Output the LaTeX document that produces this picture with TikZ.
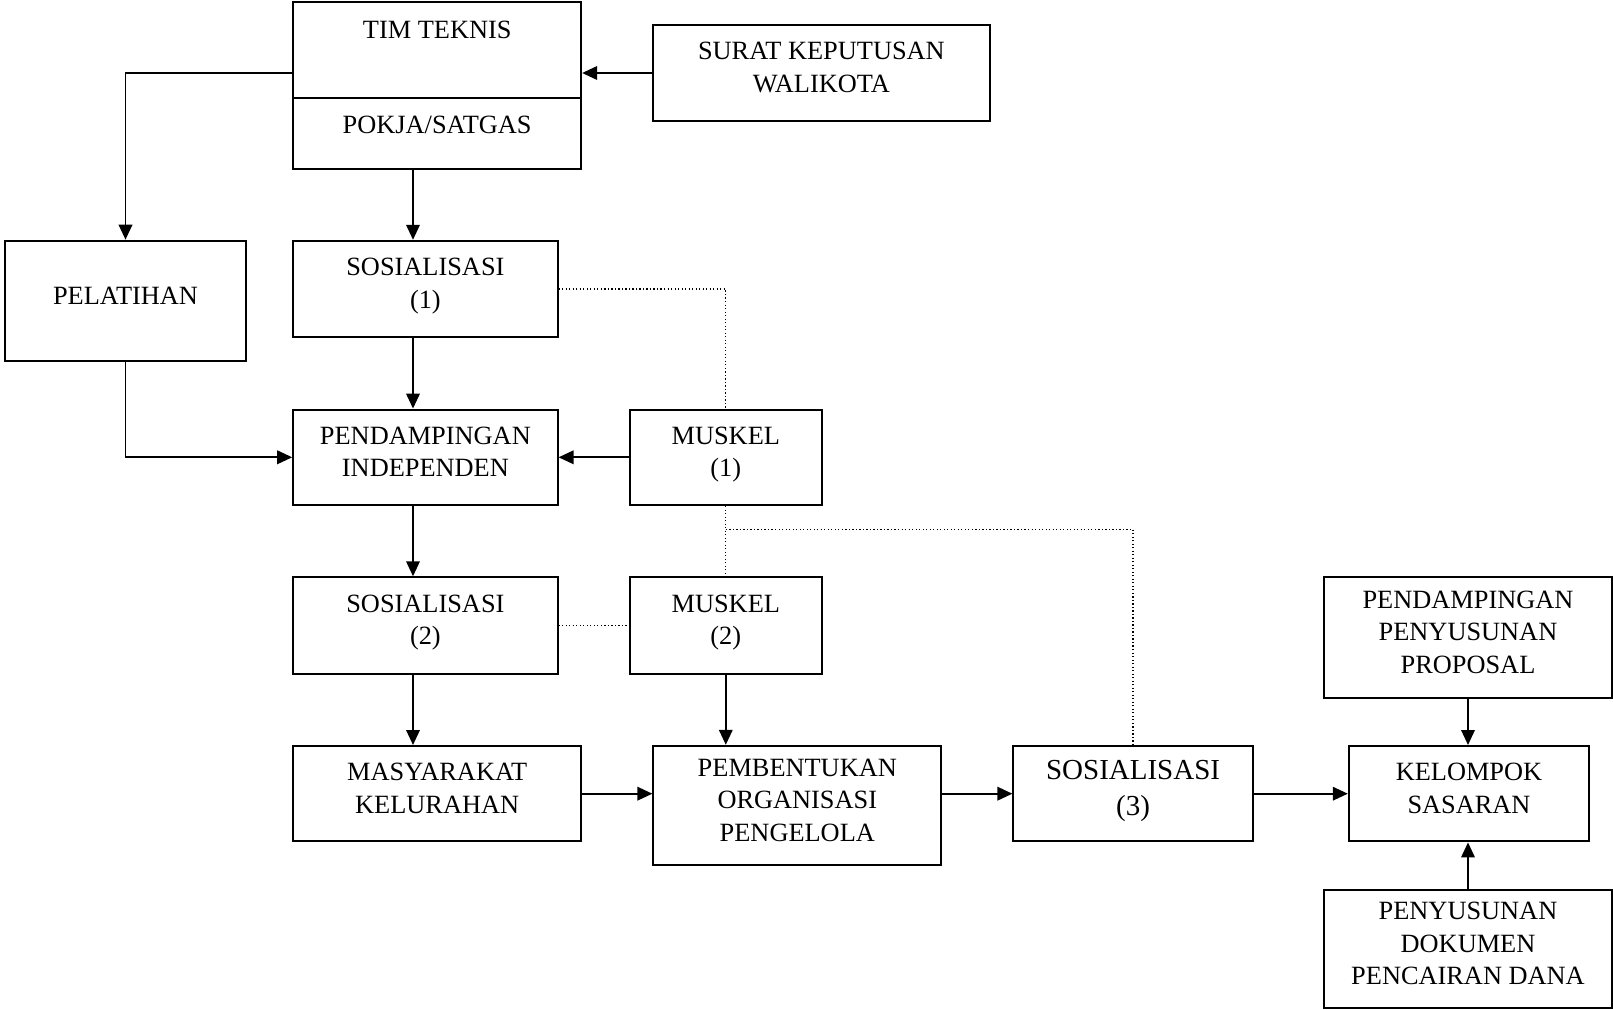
\documentclass[tikz,border=0pt]{standalone}
\usepackage{fontspec}
\setmainfont{Liberation Serif}
\usepackage{tikz}
\usetikzlibrary{arrows.meta, calc}

\begin{document}
\begin{tikzpicture}[x=0.02cm, y=-0.02cm,
    box/.style={draw, line width=1.1pt, align=center, inner sep=2pt, font=\fontsize{15}{18.5}\selectfont,
      execute at end node={\rule[-0.22cm]{0pt}{0pt}}},
    boxtitle/.style={anchor=north, yshift=-0.27cm, font=\fontsize{15}{18.5}\selectfont},
    flow/.style={line width=1.1pt, -{Triangle[length=0.3cm, width=0.27cm]}},
    link/.style={line width=0.7pt, dash pattern=on 0.7pt off 1.3pt}]
  \useasboundingbox (0,0) rectangle (1613,1010);

  % Top
  \node[box, minimum width=5.76cm, minimum height=1.91cm, label={[boxtitle]north:TIM TEKNIS}] (tim) at (437.2, 49.9) {};
  \node[box, minimum width=5.76cm, minimum height=1.42cm, label={[boxtitle]north:POKJA/SATGAS}] (pokja) at (437.2, 133.2) {};
  \node[box, minimum width=6.73cm, minimum height=1.93cm] (surat) at (821.4, 73) {SURAT KEPUTUSAN\\WALIKOTA};

  % Left column
  \node[box, minimum width=4.82cm, minimum height=2.41cm] (pelatihan) at (125.5, 300.9) {PELATIHAN};
  \node[box, minimum width=5.29cm, minimum height=1.93cm] (sos1) at (425.4, 289) {SOSIALISASI\\(1)};
  \node[box, minimum width=5.29cm, minimum height=1.91cm] (pend) at (425.4, 457.3) {PENDAMPINGAN\\INDEPENDEN};
  \node[box, minimum width=3.85cm, minimum height=1.91cm] (muskel1) at (725.8, 457.3) {MUSKEL\\(1)};
  \node[box, minimum width=5.29cm, minimum height=1.93cm] (sos2) at (425.4, 625.5) {SOSIALISASI\\(2)};
  \node[box, minimum width=3.85cm, minimum height=1.93cm] (muskel2) at (725.8, 625.5) {MUSKEL\\(2)};

  % Bottom row
  \node[box, minimum width=5.76cm, minimum height=1.91cm] (masy) at (437.2, 793.7) {MASYARAKAT\\KELURAHAN};
  \node[box, minimum width=5.76cm, minimum height=2.39cm] (pemb) at (797.3, 805.5) {PEMBENTUKAN\\ORGANISASI\\PENGELOLA};
  \node[box, minimum width=4.79cm, minimum height=1.91cm, font=\fontsize{16.5}{20.5}\selectfont] (sos3) at (1133.1, 793.7) {SOSIALISASI\\(3)};
  \node[box, minimum width=4.81cm, minimum height=1.91cm] (kelompok) at (1469, 793.7) {KELOMPOK\\SASARAN};
  \node[box, minimum width=5.76cm, minimum height=2.41cm] (proposal) at (1468, 637.3) {PENDAMPINGAN\\PENYUSUNAN\\PROPOSAL};
  \node[box, minimum width=5.76cm, minimum height=2.37cm] (dana) at (1468, 949) {PENYUSUNAN\\DOKUMEN\\PENCAIRAN DANA};

  \coordinate (col) at (413, 0);
  \coordinate (fork) at ($(muskel1.south)!0.33!(muskel2.north)$);

  % Arrows
  \draw[flow] (surat.west) -- (surat.west -| tim.east);
  \draw[flow] (tim.west |- surat.west) -| (pelatihan.north);
  \draw[flow] (col |- pokja.south) -- (col |- sos1.north);
  \draw[flow] (col |- sos1.south) -- (col |- pend.north);
  \draw[flow] (pelatihan.south) |- (pend.west);
  \draw[flow] (muskel1.west) -- (pend.east);
  \draw[flow] (col |- pend.south) -- (col |- sos2.north);
  \draw[flow] (col |- sos2.south) -- (col |- masy.north);
  \draw[flow] (muskel2.south) -- (muskel2.south |- pemb.north);
  \draw[flow] (masy.east) -- (masy.east -| pemb.west);
  \draw[flow] (pemb.east |- sos3.west) -- (sos3.west);
  \draw[flow] (sos3.east) -- (kelompok.west);
  \draw[flow] (proposal.south) -- (proposal.south |- kelompok.north);
  \draw[flow] (dana.north) -- (dana.north |- kelompok.south);

  % Dotted links
  \draw[link] (sos1.east) -| (muskel1.north);
  \draw[link] (muskel1.south) -- (muskel2.north);
  \draw[link] (fork) -| (sos3.north);
  \draw[link] (sos2.east) -- (muskel2.west);
\end{tikzpicture}
\end{document}
